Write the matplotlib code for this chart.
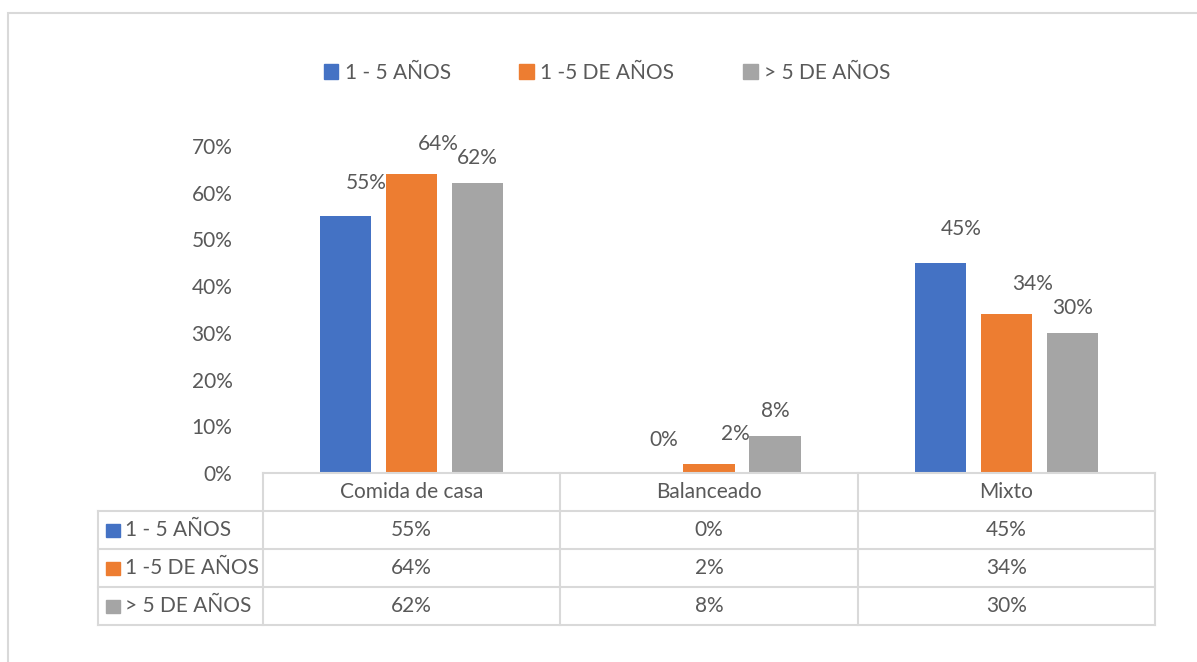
import matplotlib.pyplot as plt
from matplotlib.patches import Rectangle
from matplotlib.lines import Line2D

# data
categories = ['Comida de casa', 'Balanceado', 'Mixto']
series_names = ['1 - 5 AÑOS', '1 -5 DE AÑOS', '> 5 DE AÑOS']
val_1_5 = [0.55, 0.00, 0.45]
val_1_5_de = [0.64, 0.02, 0.34]
val_mas_5 = [0.62, 0.08, 0.30]
yticks = [0, 0.1, 0.2, 0.3, 0.4, 0.5, 0.6, 0.7]

series = [val_1_5, val_1_5_de, val_mas_5]
colors = ['#4472C4', '#ED7D31', '#A5A5A5']
# excel put the data labels a bit off-centre for some series
label_offsets = [(15, 24), (19, 21.5), (0, 18)]

txt = '#595959'
grid_c = '#D9D9D9'
fs = 15
plt.rcParams['font.family'] = ['Lato', 'DejaVu Sans']

W, H = 1197, 662
fig = plt.figure(figsize=(W / 100, H / 100), dpi=100)

# outer chart border (only left/top fall inside the picture)
fig.add_artist(Rectangle((8 / W, -0.05), 1.05, 1 - 13 / H + 0.05, transform=fig.transFigure,
                         fill=False, edgecolor=grid_c, linewidth=1.5))

ax = fig.add_axes([263 / W, 1 - 473 / H, 892 / W, 327 / H])

bar_w = 0.172
step = 0.222
for i, (vals, col) in enumerate(zip(series, colors)):
    xs = [c + (i - 1) * step for c in range(len(categories))]
    bars = ax.bar(xs, vals, width=bar_w, color=col)
    for b, v in zip(bars, vals):
        ax.annotate(f'{v:.0%}', (b.get_x() + b.get_width() / 2, v),
                    xytext=label_offsets[i], textcoords='offset points',
                    ha='center', va='center', fontsize=fs, color=txt)

ax.set_xlim(-0.5, len(categories) - 0.5)
ax.set_ylim(0, 0.70)
ax.set_yticks(yticks)
ax.set_yticklabels([f'{t:.0%}' for t in yticks], fontsize=fs, color=txt)
ax.tick_params(axis='y', length=0, pad=22)
ax.set_xticks([])
for s in ax.spines.values():
    s.set_visible(False)

# data table under the axis
row_h = 38 / 327
left_x = (98 - 263) / 892
n_rows = len(series)
y_bottom = -row_h * (n_rows + 1)


def hline(x0, x1, y):
    ax.add_line(Line2D([x0, x1], [y, y], transform=ax.transAxes, color=grid_c,
                       linewidth=1.5, clip_on=False))


def vline(x, y0, y1):
    ax.add_line(Line2D([x, x], [y0, y1], transform=ax.transAxes, color=grid_c,
                       linewidth=1.5, clip_on=False))


hline(0, 1, 0)
for r in range(1, n_rows + 2):
    hline(left_x, 1, -row_h * r)
vline(left_x, -row_h, y_bottom)
for c in range(len(categories) + 1):
    vline(c / len(categories), 0, y_bottom)

for c, name in enumerate(categories):
    ax.text((c + 0.5) / len(categories), -row_h * 0.5, name, transform=ax.transAxes,
            ha='center', va='center', fontsize=fs, color=txt)

sq_w = 14 / 892
sq_h = 13 / 327
for r, (name, vals, col) in enumerate(zip(series_names, series, colors)):
    yc = -row_h * (r + 1.5)
    ax.add_patch(Rectangle((left_x + 8 / 892, yc - sq_h / 2), sq_w, sq_h, transform=ax.transAxes,
                           color=col, clip_on=False))
    ax.text(left_x + 27 / 892, yc, name, transform=ax.transAxes,
            ha='left', va='center', fontsize=fs, color=txt)
    for c, v in enumerate(vals):
        ax.text((c + 0.5) / len(categories), yc, f'{v:.0%}', transform=ax.transAxes,
                ha='center', va='center', fontsize=fs, color=txt)

# legend on top
handles = [Rectangle((0, 0), 1, 1, color=col) for col in colors]
fig.legend(handles, series_names, loc='center', bbox_to_anchor=(607 / W, 1 - 73 / H),
           ncol=3, frameon=False, fontsize=fs, labelcolor=txt,
           handlelength=0.7, handleheight=0.7, handletextpad=0.3, columnspacing=3.3)

fig.savefig('out.png', dpi=100, facecolor='white')
